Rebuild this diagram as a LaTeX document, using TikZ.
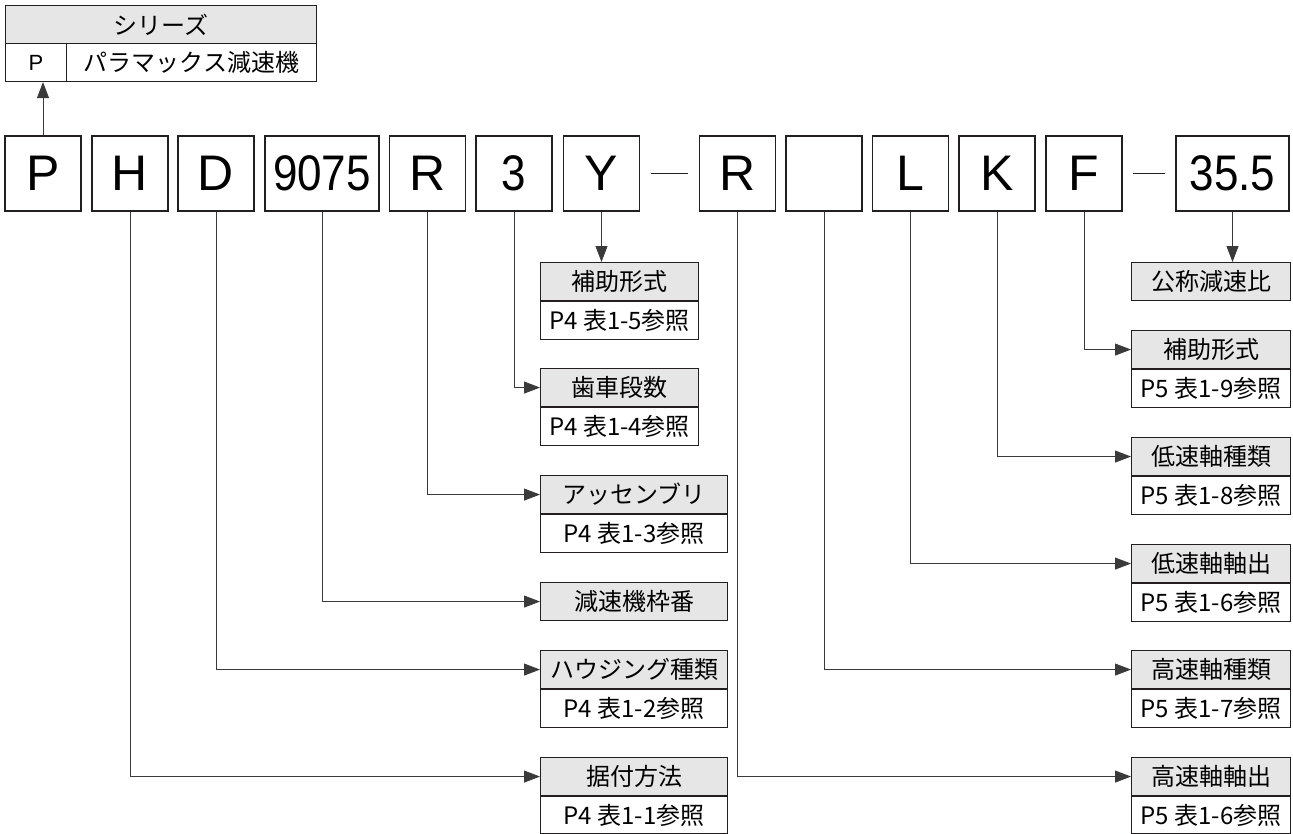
\documentclass[tikz,border=0pt]{standalone}
\usepackage{fontspec}
\setmainfont{Liberation Sans}
\newfontfamily\jp{Noto Sans CJK JP}
\newfontfamily\cond[FakeStretch=0.88]{Liberation Sans}
\usetikzlibrary{arrows.meta}
\definecolor{linec}{HTML}{231F20}
\definecolor{connc}{HTML}{3A3A3A}
\definecolor{hdrc}{HTML}{E6E6E6}
\tikzset{
  bigbox/.style={draw=linec, line width=1.2pt, minimum width=76pt, minimum height=75pt, inner sep=0pt, font=\fontsize{50}{50}\selectfont},
  widebox/.style={bigbox, minimum width=114pt, font=\cond\fontsize{50}{50}\selectfont},
  hdr/.style={draw=linec, line width=1.1pt, fill=hdrc, minimum height=38pt, inner sep=0pt, anchor=north west, font=\jp\fontsize{24}{24}\selectfont},
  sub/.style={draw=linec, line width=1.1pt, fill=white, minimum height=38pt, inner sep=0pt, anchor=north, font=\jp\fontsize{24}{24}\selectfont},
  conn/.style={draw=connc, line width=0.9pt, -{Triangle[length=16pt,width=12pt]}},
  dashln/.style={draw=linec, line width=1.8pt}
}
\begin{document}
\begin{tikzpicture}[x=1pt,y=-1pt]
\useasboundingbox (0,0) rectangle (1293,833);
% series table
\node[hdr, minimum width=311pt] (ser) at (5,5) {シリーズ};
\node[hdr, fill=white, minimum width=61pt, font=\fontsize{22}{22}\selectfont] (serp) at (5,43) {P};
\node[hdr, fill=white, minimum width=250pt] (sern) at (66,43) {パラマックス減速機};
% main boxes
\node[bigbox] (P) at (43,173.5) {P};
\node[bigbox] (H) at (130,173.5) {H};
\node[bigbox] (D) at (216,173.5) {D};
\node[widebox] (N9) at (322,173.5) {9075};
\node[bigbox] (R) at (427.5,173.5) {R};
\node[bigbox, font=\cond\fontsize{50}{50}\selectfont] (S3) at (514,173.5) {3};
\node[bigbox] (Y) at (601.5,173.5) {Y};
\node[bigbox] (R2) at (737.5,173.5) {R};
\node[bigbox] (E) at (824,173.5) {};
\node[bigbox] (L) at (910.5,173.5) {L};
\node[bigbox] (K) at (997,173.5) {K};
\node[bigbox] (F) at (1084,173.5) {F};
\node[widebox, minimum width=113pt] (N) at (1232.5,173.5) {35.5};
\draw[dashln, shorten <=11pt, shorten >=11pt] (Y.east) -- (R2.west);
\draw[dashln, shorten <=10pt, shorten >=10pt] (F.east) -- (N.west);
% left labels
\node[hdr, minimum width=158pt] (hY) at (540,262) {補助形式};
\node[sub, minimum width=158pt] (sY) at (hY.south) {P4 表1-5参照};
\node[hdr, minimum width=158pt] (h3) at (540,368) {歯車段数};
\node[sub, minimum width=158pt] (s3) at (h3.south) {P4 表1-4参照};
\node[hdr, minimum width=187pt] (hR) at (540,475) {アッセンブリ};
\node[sub, minimum width=187pt] (sR) at (hR.south) {P4 表1-3参照};
\node[hdr, minimum width=187pt] (h9) at (540,582) {減速機枠番};
\node[hdr, minimum width=187pt] (hD) at (540,650) {ハウジング種類};
\node[sub, minimum width=187pt] (sD) at (hD.south) {P4 表1-2参照};
\node[hdr, minimum width=187pt] (hH) at (540,757) {据付方法};
\node[sub, minimum width=187pt, minimum height=37pt] (sH) at (hH.south) {P4 表1-1参照};
% right labels
\node[hdr, minimum width=159pt] (hN) at (1131,262) {公称減速比};
\node[hdr, minimum width=159pt] (hF) at (1131,330) {補助形式};
\node[sub, minimum width=159pt] (sF) at (hF.south) {P5 表1-9参照};
\node[hdr, minimum width=159pt] (hK) at (1131,437) {低速軸種類};
\node[sub, minimum width=159pt] (sK) at (hK.south) {P5 表1-8参照};
\node[hdr, minimum width=159pt] (hL) at (1131,544) {低速軸軸出};
\node[sub, minimum width=159pt] (sL) at (hL.south) {P5 表1-6参照};
\node[hdr, minimum width=159pt] (hE) at (1131,650) {高速軸種類};
\node[sub, minimum width=159pt] (sE) at (hE.south) {P5 表1-7参照};
\node[hdr, minimum width=159pt] (hR2) at (1131,757) {高速軸軸出};
\node[sub, minimum width=159pt, minimum height=37pt] (sR2) at (hR2.south) {P5 表1-6参照};
% connectors
\draw[conn] (P.north) -- (P.north |- serp.south);
\draw[conn] (Y.south) -- (Y.south |- hY.north);
\draw[conn] (N.south) -- (N.south |- hN.north);
\draw[conn] (S3.south) |- (h3.west);
\draw[conn] (R.south) |- (hR.west);
\draw[conn] (N9.south) |- (h9.west);
\draw[conn] (D.south) |- (hD.west);
\draw[conn] (H.south) |- (hH.west);
\draw[conn] (F.south) |- (hF.west);
\draw[conn] (K.south) |- (hK.west);
\draw[conn] (L.south) |- (hL.west);
\draw[conn] (E.south) |- (hE.west);
\draw[conn] (R2.south) |- (hR2.west);
\end{tikzpicture}
\end{document}
